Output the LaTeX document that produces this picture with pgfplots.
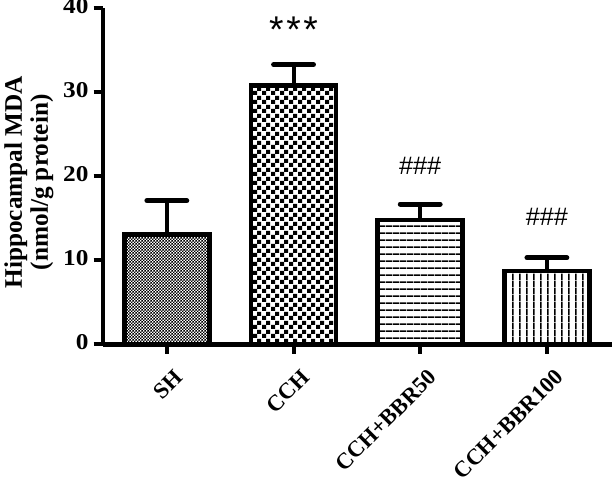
\documentclass[border=0pt]{standalone}
\usepackage{fontspec}
\setmainfont{Liberation Serif}
\newfontfamily\sansf{Liberation Sans}
\usepackage{pgfplots}
\pgfplotsset{compat=1.18}
\usetikzlibrary{patterns}

% fill patterns of the four bars
\pgfdeclarepatternformonly{finecheck}{\pgfpointorigin}{\pgfqpoint{2.2pt}{2.2pt}}{\pgfqpoint{2.2pt}{2.2pt}}{%
  \pgfpathrectangle{\pgfpointorigin}{\pgfqpoint{1.1pt}{1.1pt}}%
  \pgfpathrectangle{\pgfqpoint{1.1pt}{1.1pt}}{\pgfqpoint{1.1pt}{1.1pt}}%
  \pgfusepath{fill}}
\pgfdeclarepatternformonly{coarsecheck}{\pgfpointorigin}{\pgfqpoint{6.8pt}{6.8pt}}{\pgfqpoint{6.8pt}{6.8pt}}{%
  \pgfpathrectangle{\pgfpointorigin}{\pgfqpoint{3.4pt}{3.4pt}}%
  \pgfpathrectangle{\pgfqpoint{3.4pt}{3.4pt}}{\pgfqpoint{3.4pt}{3.4pt}}%
  \pgfusepath{fill}}
\pgfdeclarepatternformonly{hlines}{\pgfpointorigin}{\pgfqpoint{5pt}{5.4pt}}{\pgfqpoint{5pt}{5.4pt}}{%
  \pgfpathrectangle{\pgfpointorigin}{\pgfqpoint{5pt}{1.25pt}}%
  \pgfusepath{fill}}
\pgfdeclarepatternformonly{vlines}{\pgfpointorigin}{\pgfqpoint{5.6pt}{5pt}}{\pgfqpoint{5.6pt}{5pt}}{%
  \pgfpathrectangle{\pgfpointorigin}{\pgfqpoint{1.25pt}{5pt}}%
  \pgfusepath{fill}}

\begin{document}
\begin{tikzpicture}
\begin{axis}[
    scale only axis,
    width=382.5pt,
    height=252.75pt,
    xmin=-0.504, xmax=3.51,
    ymin=0, ymax=40,
    xtick={0,1,2,3},
    xticklabels={SH,CCH,CCH+BBR50,CCH+BBR100},
    ytick={0,10,20,30,40},
    axis x line*=bottom,
    axis y line*=left,
    axis line style={line width=3.75pt},
    tick align=outside,
    major tick length=7pt,
    tick style={line width=3pt, black},
    font=\bfseries\fontsize{17}{19}\selectfont,
    /pgf/number format/assume math mode=true,
    xticklabel style={rotate=45, anchor=east, inner sep=1pt, text depth=0pt,
        yshift=-17pt, xshift=-3pt},
    yticklabel style={xscale=1.12, text height=0.75em, text depth=0pt, inner ysep=2.5pt},
    ylabel={Hippocampal MDA\\(nmol/g protein)},
    ylabel style={align=center, font=\bfseries\fontsize{19}{19.5}\selectfont, xshift=-4.5pt},
    ybar,
    bar width=64pt,
    every axis plot/.append style={
        bar shift=0pt, draw=black, line width=3.4pt,
        error bars/y dir=plus, error bars/y explicit,
        error bars/error bar style={line width=3pt},
        error bars/error mark options={rotate=90, line width=3.75pt, line cap=round, mark size=15pt}},
]
\addplot[pattern=finecheck] coordinates {(0,13.05) +- (0,4.05)};
\addplot[pattern=coarsecheck] coordinates {(1,30.8) +- (0,2.5)};
\addplot[pattern=hlines] coordinates {(2,14.8) +- (0,1.9)};
\addplot[pattern=vlines] coordinates {(3,8.7) +- (0,1.6)};
\node[font=\sansf\fontsize{28}{28}\selectfont] at (axis cs:1,37.5) {*\hspace{2pt}*\hspace{2pt}*};
\node[font=\sansf\fontsize{19}{19}\selectfont] at (axis cs:2,21.3) {\#\#\#};
\node[font=\sansf\fontsize{19}{19}\selectfont] at (axis cs:3,15.2) {\#\#\#};
\end{axis}
\end{tikzpicture}
\end{document}
